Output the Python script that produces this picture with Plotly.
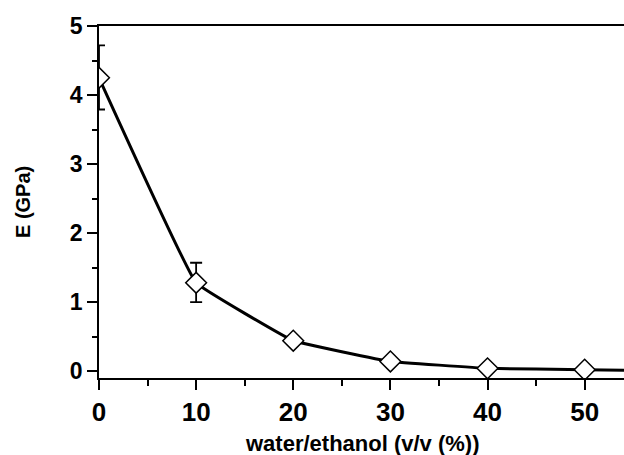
import plotly.graph_objects as go

# Data
ratio = [0, 10, 20, 30, 40, 50]
modulus = [4.25, 1.28, 0.44, 0.14, 0.04, 0.02]
err_plus = [0.47, 0.29, 0.0, 0.0, 0.0, 0.0]
err_minus = [0.46, 0.28, 0.0, 0.0, 0.0, 0.0]

# Trend curve (extends to the right edge of the chart)
curve_x = [0, 10, 20, 30, 40, 50, 55]
curve_y = [4.25, 1.28, 0.44, 0.14, 0.04, 0.02, 0.01]

x_ticks = [0, 10, 20, 30, 40, 50]
y_ticks = [0, 1, 2, 3, 4, 5]

FONT = "Liberation Sans, Arial, sans-serif"

fig = go.Figure()

fig.add_trace(go.Scatter(
    x=curve_x, y=curve_y, mode="lines",
    line=dict(color="black", width=3, shape="spline", smoothing=0.2),
    showlegend=False, hoverinfo="skip",
))

fig.add_trace(go.Scatter(
    x=ratio, y=modulus, mode="markers",
    marker=dict(symbol="diamond", size=16, color="white",
                line=dict(color="black", width=1.5)),
    error_y=dict(type="data", symmetric=False, array=err_plus,
                 arrayminus=err_minus, color="black", thickness=1.8, width=6),
    showlegend=False,
))

fig.update_layout(
    width=624, height=455,
    margin=dict(l=99, r=0, t=26, b=77, autoexpand=False),
    paper_bgcolor="white", plot_bgcolor="white",
    font=dict(family=FONT, color="black"),
    xaxis=dict(
        range=[0, 54.05], tickvals=x_ticks, ticktext=[f"<b>{v}</b>" for v in x_ticks],
        ticks="outside", ticklen=10, tickwidth=1.5, tickcolor="black",
        minor=dict(dtick=5, ticks="outside", ticklen=6, tickwidth=1.5, tickcolor="black"),
        showline=True, linecolor="black", linewidth=1.5, mirror=True,
        showgrid=False, zeroline=False, automargin=False,
        tickfont=dict(size=26, family=FONT),
    ),
    yaxis=dict(
        range=[-0.1, 5], tickvals=y_ticks, ticktext=[f"<b>{v}</b>" for v in y_ticks],
        ticks="outside", ticklen=10, tickwidth=1.5, tickcolor="black",
        minor=dict(dtick=0.5, tick0=0, ticks="outside", ticklen=5, tickwidth=1.5, tickcolor="black"),
        showline=True, linecolor="black", linewidth=1.5,
        showgrid=False, zeroline=False, automargin=False,
        tickfont=dict(size=23, family=FONT),
    ),
    annotations=[
        dict(text="<b>water/ethanol (v/v (%))</b>", xref="paper", yref="paper",
             x=0.5, y=0, yshift=-65, xanchor="center", yanchor="middle",
             showarrow=False, font=dict(size=22, family=FONT)),
        dict(text="<b>E (GPa)</b>", xref="paper", yref="paper",
             x=0, y=0.5, xshift=-76, xanchor="center", yanchor="middle",
             textangle=-90, showarrow=False, font=dict(size=20, family=FONT)),
    ],
)

fig.write_html("out.html", config={"displayModeBar": False},
               post_script="document.body.style.margin='0';")
